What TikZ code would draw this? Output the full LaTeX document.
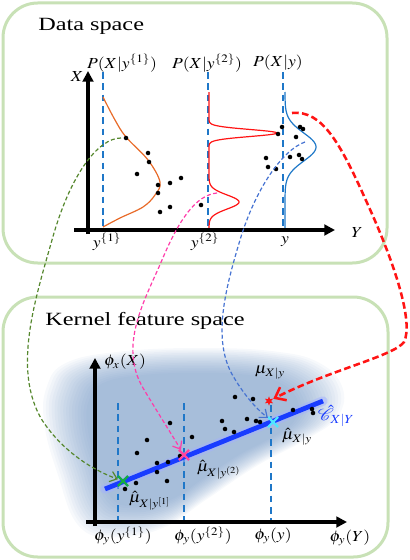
\documentclass[tikz,border=0pt]{standalone}
\usepackage{mathptmx}
\usepackage[no-math]{fontspec}
\setmainfont{Liberation Serif}
\usepackage{graphicx}
\usetikzlibrary{arrows.meta,shapes.misc,shapes.geometric}
\definecolor{panelgreen}{RGB}{200,225,182}
\definecolor{dashblue}{RGB}{31,119,200}
\definecolor{orangec}{RGB}{232,106,40}
\definecolor{redc}{RGB}{255,20,20}
\definecolor{gblue}{RGB}{30,120,200}
\definecolor{gconnc}{RGB}{85,135,45}
\definecolor{pconnc}{RGB}{255,60,170}
\definecolor{bconnc}{RGB}{70,115,210}
\definecolor{blobc}{RGB}{100,140,190}
\definecolor{regc}{RGB}{25,60,255}
\definecolor{greenm}{RGB}{20,170,70}
\definecolor{pinkm}{RGB}{255,70,160}
\definecolor{cyanm}{RGB}{80,230,255}
\tikzset{
  panel/.style={draw=panelgreen, line width=2.25pt, rounded corners=26pt},
  titletext/.style={font=\fontsize{14}{16}\selectfont, inner sep=0pt},
  lab/.style={font=\fontsize{11.5}{13}\selectfont, inner sep=0pt},
  axisline/.style={line width=3pt, -{Triangle[length=8pt,width=8pt]}},
  vdash/.style={draw=dashblue, line width=2pt, dash pattern=on 5pt off 3.5pt},
  dot/.style={circle, fill=black, inner sep=0pt, minimum size=3.4pt},
  xmarker/.style={cross out, line width=1.6pt, minimum size=6pt, inner sep=0pt},
  conn/.style={line width=0.9pt, dash pattern=on 3pt off 1.8pt, -{Straight Barb[length=5pt,width=8pt]}},
}
\begin{document}
\begin{tikzpicture}[x=0.75pt,y=-0.75pt]
\useasboundingbox (0,0) rectangle (410,560);

% ---------- panels ----------
\draw[panel] (3,3) rectangle (387,263);
\draw[panel] (3,297) rectangle (388,557);
\node[titletext, anchor=west] (ds) at (38,26) {\scalebox{1.3}[1]{Data space}};
\node[titletext, anchor=west] (kfs) at (45,321) {\scalebox{1.3}[1]{Kernel feature space}};

% ---------- data space ----------
\draw[vdash] (103,72) -- (103,227);
\draw[vdash] (208,72) -- (208,230);
\draw[vdash] (283,72) -- (283,230);

\draw[orangec, line width=0.9pt] plot[smooth, tension=0.6] coordinates {(103,97) (115,120) (126,137) (148,160) (160,182) (155,195) (143,207) (120,218) (103,227)};
\draw[redc, line width=0.9pt] plot[domain=92:230, samples=220, variable=\t]
  ({209+68*exp(max(-0.5*((\t-133)/3.5)^2,-20))+30*exp(max(-0.5*((\t-202)/7)^2,-20))}, \t);
\draw[gblue, line width=0.9pt] plot[domain=92:230, samples=150, variable=\t]
  ({285+31*exp(max(-0.5*((\t-147)/14)^2,-20))}, \t);

\coordinate (o1) at (88,234);
\coordinate (xtop) at (88,71);
\coordinate (xl) at (74,230);
\coordinate (yend) at (335,230);
\draw[axisline] (o1) -- (xtop);
\draw[axisline] (xl) -- (yend);

\foreach \p [count=\i] in {(126,138),(148,153),(149,162),(137,174),(158,185),(170,183),(181,178),(158,193),(160,212),(170,207),(201,205),(282,127),(278,134),(300,127),(303,129),(296,137),(266,158),(268,167),(276,169),(290,157),(299,155),(302,159)}
  \node[dot] (t\i) at \p {};

\node[lab] (lx) at (77,77) {\scalebox{1.15}[1]{$X$}};
\node[lab] (ly) at (357,233) {\scalebox{1.15}[1]{$Y$}};
\node[lab] (p1) at (122,63) {\scalebox{1.15}[1]{$P(X|y^{\{1\}})$}};
\node[lab] (p2) at (207,63) {\scalebox{1.15}[1]{$P(X|y^{\{2\}})$}};
\node[lab] (p3) at (278,63) {\scalebox{1.15}[1]{$P(X|y)$}};
\node[lab] (y1) at (107,242) {\scalebox{1.15}[1]{$y^{\{1\}}$}};
\node[lab] (y2) at (205,242) {\scalebox{1.15}[1]{$y^{\{2\}}$}};
\node[lab] (y3) at (285,242) {\scalebox{1.15}[1]{$y$}};

% ---------- kernel feature space ----------
\foreach \k in {0,...,15} {
  \pgfmathsetmacro\s{1.12-0.022*\k}
  \fill[blobc, fill opacity=0.05, scale around={\s:(190,432)}] plot[smooth cycle, tension=0.7] coordinates {(62,392) (80,370) (130,360) (200,357) (265,360) (305,370) (326,392) (322,418) (295,438) (250,462) (205,492) (165,518) (120,526) (90,515) (72,470) (60,425)};
}

\draw[vdash] (118,403) -- (118,522);
\draw[vdash] (184,403) -- (184,522);
\draw[vdash] (271,405) -- (271,522);

\coordinate (ra) at (105,489);
\coordinate (rb) at (323,401);
\draw[regc!40, opacity=0.5, line width=7pt, line cap=round] (ra) -- (rb);
\draw[regc, line width=3.6pt] (ra) -- (rb);

\foreach \p [count=\i] in {(235,397),(253,399),(222,421),(247,419),(256,421),(260,422),(225,429),(234,432),(293,410),(312,409),(313,413),(170,423),(192,437),(147,440),(137,453),(157,463),(168,462),(180,456),(157,472),(167,481),(136,483),(125,489)}
  \node[dot] (b\i) at \p {};

\node[xmarker, draw=greenm] (gm) at (123,481) {};
\node[xmarker, draw=pinkm] (pm) at (184,455) {};
\node[xmarker, draw=cyanm] (cm) at (273,422) {};
\node[star, star points=6, star point ratio=2.2, fill=redc, inner sep=0pt, minimum size=7pt] (rm) at (269,401) {};

\coordinate (b2o) at (95,526);
\coordinate (b2top) at (95,358);
\coordinate (b2l) at (86,522);
\coordinate (b2r) at (347,522);
\draw[axisline] (b2o) -- (b2top);
\draw[axisline] (b2l) -- (b2r);

\node[lab] (px) at (125,362) {\scalebox{1.15}[1]{$\phi_x(X)$}};
\node[lab] (py) at (350,538) {\scalebox{1.15}[1]{$\phi_y(Y)$}};
\node[lab] (py1) at (123,536) {\scalebox{1.15}[1]{$\phi_y(y^{\{1\}})$}};
\node[lab] (py2) at (203,536) {\scalebox{1.15}[1]{$\phi_y(y^{\{2\}})$}};
\node[lab] (py3) at (273,536) {\scalebox{1.15}[1]{$\phi_y(y)$}};
\node[lab] (mu1) at (150,501) {\scalebox{1.15}[1]{$\hat{\mu}_{X|y^{[1]}}$}};
\node[lab] (mu2) at (219,470) {\scalebox{1.15}[1]{$\hat{\mu}_{X|y^{(2)}}$}};
\node[lab] (mu3) at (297,437) {\scalebox{1.15}[1]{$\hat{\mu}_{X|y}$}};
\node[lab] (mu) at (270,373) {\scalebox{1.15}[1]{$\mu_{X|y}$}};
\node[lab, text=regc, font=\fontsize{12.5}{14}\selectfont] (cxy) at (336,416) {\scalebox{1.15}[1]{$\hat{\mathcal{C}}_{X|Y}$}};

% ---------- connectors ----------
\coordinate (gs) at (121,138);
\coordinate (ps) at (217,193);
\coordinate (bs) at (305,142);
\coordinate (rs) at (292,113);
\draw[conn, gconnc] (gs) .. controls (98,138) and (70,175) .. (52,240)
  .. controls (35,300) and (12,370) .. (42,420)
  .. controls (65,455) and (98,472) .. (gm);
\draw[conn, pconnc] (ps) .. controls (195,195) and (178,222) .. (162,260)
  .. controls (145,300) and (118,345) .. (143,388)
  .. controls (158,413) and (172,435) .. (pm);
\draw[conn, bconnc] (bs) .. controls (282,150) and (255,190) .. (240,240)
  .. controls (225,290) and (212,340) .. (233,376)
  .. controls (246,398) and (258,410) .. (cm);
\draw[redc, line width=1.9pt, dash pattern=on 5pt off 2.5pt, -{Straight Barb[length=7pt,width=11pt]}]
  (rs) .. controls (322,110) and (340,142) .. (368,205)
  .. controls (394,262) and (414,322) .. (404,342)
  .. controls (394,356) and (330,370) .. (rm);
\end{tikzpicture}
\end{document}
